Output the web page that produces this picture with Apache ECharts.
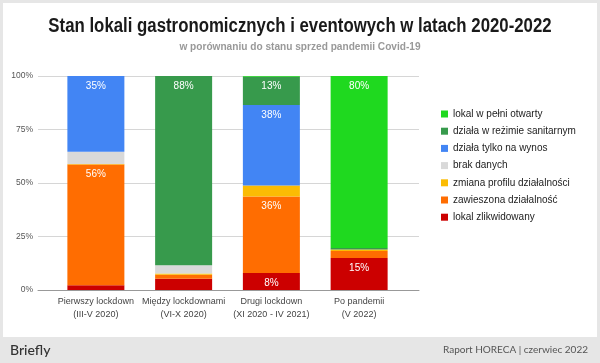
<!DOCTYPE html>
<html><head><meta charset="utf-8">
<script src="https://cdn.jsdelivr.net/npm/echarts@6/dist/echarts.min.js"></script>
<style>html,body{margin:0;padding:0;background:#e6e6e6}#c{width:600px;height:363px}</style>
</head><body><div id="c"></div>
<script>
const categories = ['Pierwszy lockdown\n(III-V 2020)', 'Między lockdownami\n(VI-X 2020)', 'Drugi lockdown\n(XI 2020 - IV 2021)', 'Po pandemii\n(V 2022)'];
const yTicks = [0, 25, 50, 75, 100];
const seriesNames = ['lokal zlikwidowany', 'zawieszona działalność', 'zmiana profilu działalności', 'brak danych', 'działa tylko na wynos', 'działa w reżimie sanitarnym', 'lokal w pełni otwarty'];
const zlikwidowany = [2.2, 5.3, 8, 14.9];
const zawieszona = [56.4, 1.8, 35.7, 3.3];
const zmianaProfilu = [0.3, 0.6, 5.1, 0.7];
const brakDanych = [5.7, 3.9, 0, 0];
const naWynos = [35.4, 0, 37.6, 0];
const sanitarny = [0, 88.4, 13.3, 0.7];
const otwarty = [0, 0, 0.3, 80.4];
const seriesValues = [zlikwidowany, zawieszona, zmianaProfilu, brakDanych, naWynos, sanitarny, otwarty];
const colors = ['#cc0000', '#ff6d01', '#fbbc04', '#d9d9d9', '#4285f4', '#379a4c', '#1fd91f'];
const titleText = 'Stan lokali gastronomicznych i eventowych w latach 2020-2022';
const subtitleText = 'w porównaniu do stanu sprzed pandemii Covid-19';

const FONT = '"Liberation Sans", Arial, sans-serif';
const chart = echarts.init(document.getElementById('c'), null, {renderer: 'canvas'});
const option = {
  backgroundColor: '#e6e6e6',
  animation: false,
  graphic: [
    {type: 'rect', shape: {x: 3, y: 3, width: 594, height: 334}, style: {fill: '#ffffff'}, z: -10, silent: true},
    {type: 'text', x: 300, y: 26, scaleX: 0.84, style: {text: titleText, font: 'bold 20px ' + FONT, fill: '#1a1a1a', textAlign: 'center', textVerticalAlign: 'middle'}},
    {type: 'text', x: 300, y: 47, scaleX: 0.92, style: {text: subtitleText, font: 'bold 11px ' + FONT, fill: '#999999', textAlign: 'center', textVerticalAlign: 'middle'}},
    {type: 'text', x: 10, y: 350, style: {text: 'Briefly', font: '500 14px Lato, "Open Sans", sans-serif', fill: '#333333', textVerticalAlign: 'middle'}},
    {type: 'text', x: 588, y: 350, style: {text: 'Raport HORECA | czerwiec 2022', font: '10px Lato, "Open Sans", sans-serif', fill: '#555555', textAlign: 'right', textVerticalAlign: 'middle'}}
  ],
  legend: {
    orient: 'vertical', left: 441, top: 108, padding: 0, itemWidth: 7, itemHeight: 7, itemGap: 5.2, icon: 'rect',
    data: seriesNames.slice().reverse(),
    textStyle: {fontFamily: FONT, fontSize: 10, lineHeight: 12, color: '#222222'}
  },
  grid: [
    {left: 38, right: 181, top: 76, bottom: 73},
    {left: 52, right: 197, top: 76, bottom: 73}
  ],
  xAxis: [
    {type: 'value', gridIndex: 0, min: 0, max: 1, axisLine: {show: true, lineStyle: {color: '#999999', width: 1}},
     axisTick: {show: false}, axisLabel: {show: false}, splitLine: {show: false}},
    {type: 'category', gridIndex: 1, data: categories, axisLine: {show: false}, axisTick: {show: false},
     axisLabel: {interval: 0, margin: 5, fontFamily: FONT, fontSize: 9, lineHeight: 13, color: '#444444'}}
  ],
  yAxis: [
    {type: 'value', gridIndex: 0, min: 0, max: 100, interval: 25,
     axisLabel: {formatter: v => yTicks.includes(v) ? v + '%' : '', margin: 5, fontFamily: FONT, fontSize: 8.5, color: '#555555'},
     axisLine: {show: false}, axisTick: {show: false}, splitLine: {lineStyle: {color: '#d6d6d6'}}},
    {type: 'value', gridIndex: 1, min: 0, max: 100, show: false, splitLine: {show: false}}
  ],
  series: seriesNames.map((name, i) => ({
    name, type: 'bar', stack: 'all', xAxisIndex: 1, yAxisIndex: 1, barWidth: 57,
    data: seriesValues[i], itemStyle: {color: colors[i]}, color: colors[i],
    label: {show: true, position: 'insideTop', distance: 5, color: '#ffffff', fontFamily: FONT, fontSize: 10,
      formatter: p => p.value >= 8 ? Math.round(p.value) + '%' : ''}
  }))
};
chart.setOption(option);
</script></body></html>
